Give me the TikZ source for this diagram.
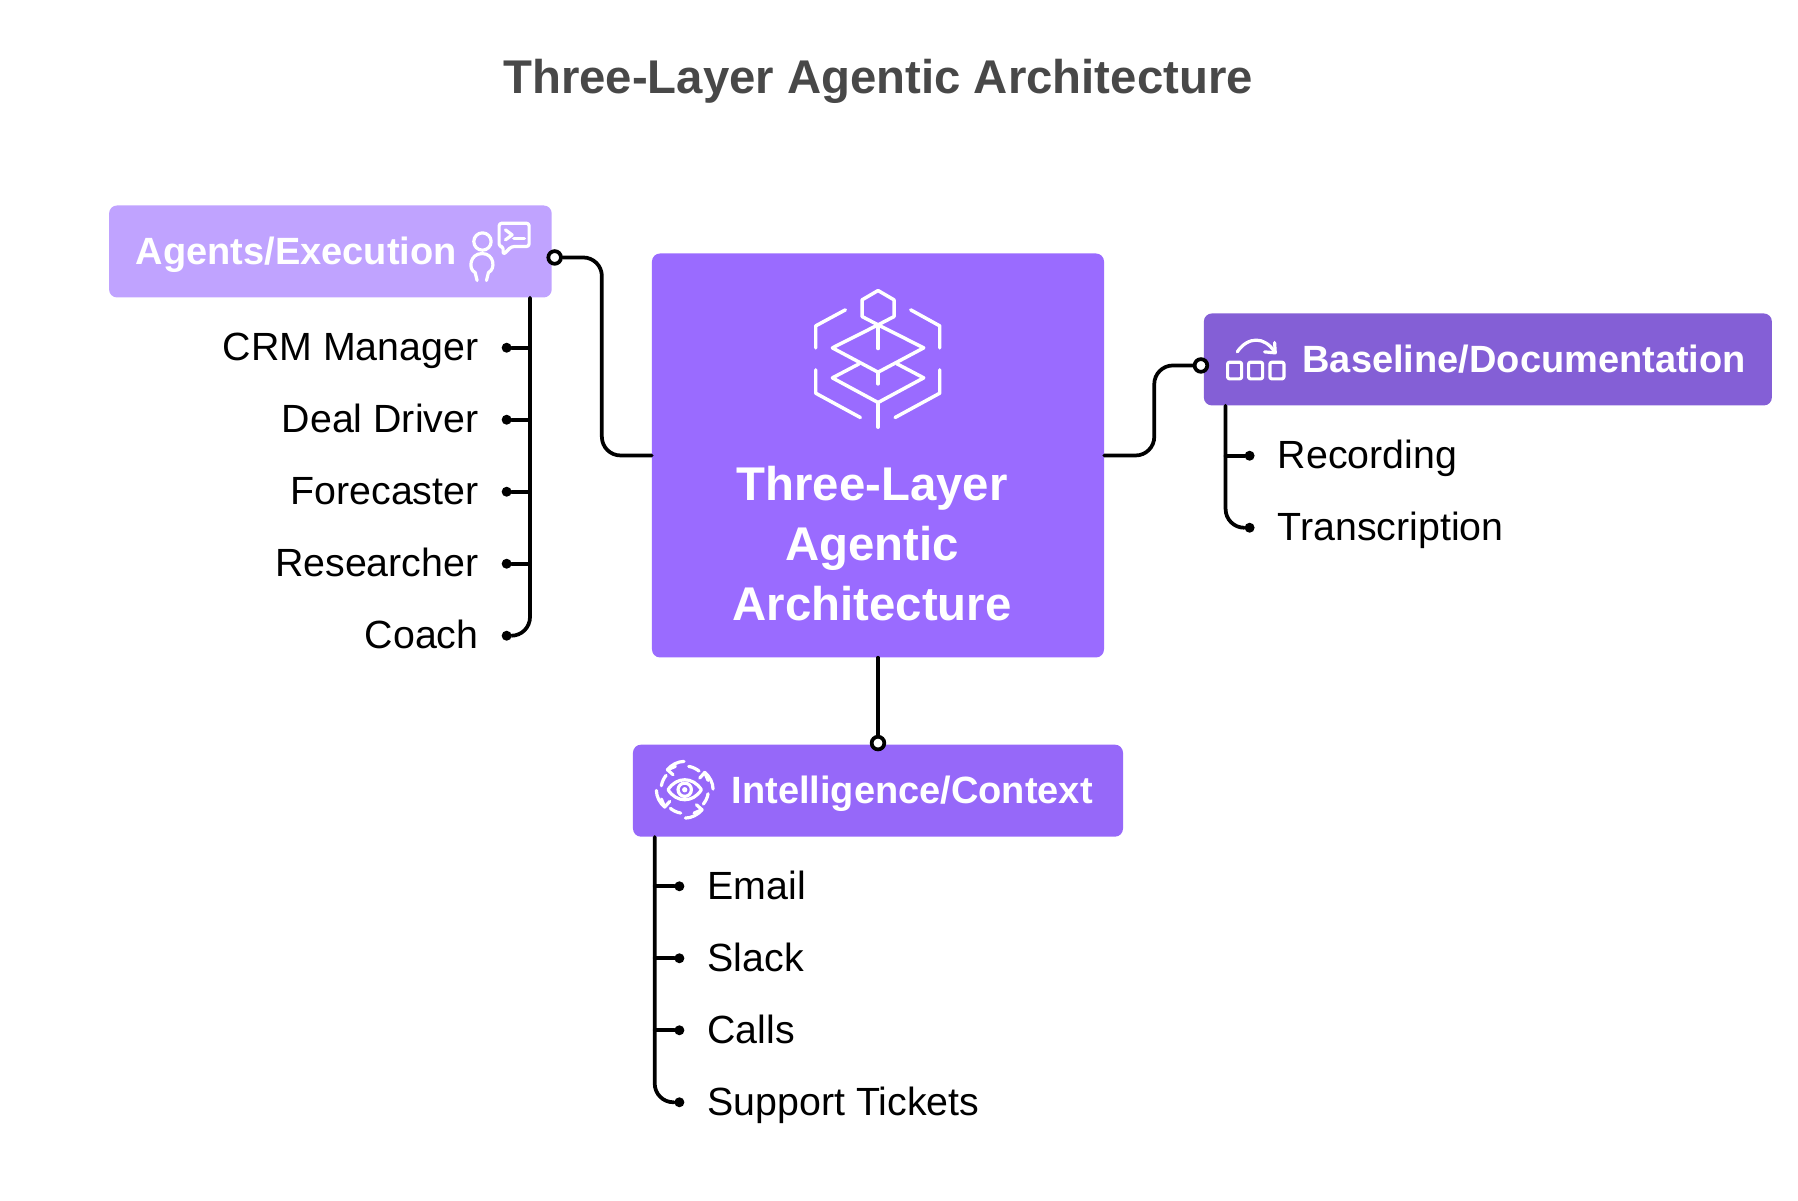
\documentclass[tikz,border=0pt]{standalone}
\usepackage{fontspec}
\setmainfont{Liberation Sans}
\usetikzlibrary{positioning}
\definecolor{titlegray}{HTML}{484848}
\definecolor{mainviolet}{HTML}{9A6BFF}
\definecolor{agentsviolet}{HTML}{C0A3FF}
\definecolor{baseviolet}{HTML}{845FD6}
\definecolor{intelviolet}{HTML}{9668F9}
\tikzset{
	layerbox/.style={rounded corners=6pt, inner sep=0pt, minimum height=69pt},
	boxlabel/.style={inner sep=0pt, text=white, text height=22pt, text depth=2.6pt, font=\fontsize{28.5}{34}\selectfont\bfseries},
	wire/.style={line width=2.8pt, line cap=round, rounded corners=14pt},
	openend/.style={circle, draw, fill=white, line width=2.8pt, inner sep=0pt, minimum size=9.5pt},
	leafdot/.style={on grid, circle, fill, inner sep=0pt, minimum size=7.5pt},
	leaftext/.style={inner sep=0pt, text height=24pt, text depth=4.7pt, font=\fontsize{29.5}{34}\selectfont},
	iconline/.style={draw=white, line width=2.4pt, line cap=round, line join=round},
}
\begin{document}
\begin{tikzpicture}[label distance=17pt]
	  \useasboundingbox (-658.5pt,341.6pt) rectangle (690pt,-558.4pt);
	  \node[layerbox, fill=mainviolet, minimum width=339pt, minimum height=303pt] (main) {};
	  \node[inner sep=0pt, text=white, align=center, xshift=-4.4pt, yshift=-66.2pt, font=\fontsize{35.5}{45}\selectfont\bfseries] (maintext) at (main) {Three-Layer\\Agentic\\Architecture};
	  \node[above=112pt of main, inner sep=0pt, text=titlegray, font=\fontsize{35.5}{42}\selectfont\bfseries] (title) {Three-Layer Agentic Architecture};

	  \node[layerbox, fill=agentsviolet, minimum width=332pt, left=74.8pt of main, yshift=153pt] (agents) {};
	  \node[boxlabel, right=20pt of agents.west] (agentslabel) {Agents/Execution};
	  \node[layerbox, fill=baseviolet, minimum width=426pt, right=74.5pt of main, yshift=72pt] (base) {};
	  \node[boxlabel, right=74pt of base.west] (baselabel) {Baseline/Documentation};
	  \node[layerbox, fill=intelviolet, minimum width=367.5pt, below=65pt of main] (intel) {};
	  \node[boxlabel, right=74pt of intel.west] (intellabel) {Intelligence/Context};

	  \node[leafdot, xshift=-34pt, yshift=-37.5pt, label={[leaftext, name=crmtext]180:CRM Manager}] (crm) at (agents.south east) {};
	  \node[leafdot, below=54pt of crm, label={[leaftext, name=dealtext]180:Deal Driver}] (deal) {};
	  \node[leafdot, below=54pt of deal, label={[leaftext, name=foretext]180:Forecaster}] (fore) {};
	  \node[leafdot, below=54pt of fore, label={[leaftext, name=restext]180:Researcher}] (res) {};
	  \node[leafdot, below=54pt of res, label={[leaftext, name=coachtext]180:Coach}] (coach) {};

	  \node[leafdot, xshift=34.5pt, yshift=-37.5pt, label={[leaftext, name=rectext]0:Recording}] (rec) at (base.south west) {};
	  \node[leafdot, below=54pt of rec, label={[leaftext, name=transtext]0:Transcription}] (trans) {};

	  \node[leafdot, xshift=35pt, yshift=-37pt, label={[leaftext, name=emailtext]0:Email}] (email) at (intel.south west) {};
	  \node[leafdot, below=54pt of email, label={[leaftext, name=slacktext]0:Slack}] (slack) {};
	  \node[leafdot, below=54pt of slack, label={[leaftext, name=callstext]0:Calls}] (calls) {};
	  \node[leafdot, below=54pt of calls, label={[leaftext, name=tickettext]0:Support Tickets}] (ticket) {};

	  \coordinate[xshift=-16.5pt] (agentsbus) at (agents.south east);
	  \coordinate[xshift=16.5pt] (basebus) at (base.south west);
	  \coordinate[xshift=16.5pt] (intelbus) at (intel.south west);
	  \coordinate[left=37.4pt of main.west] (agentsbend);
	  \coordinate[right=37.5pt of main.east] (basebend);

	  \draw[wire] (agentsbus) |- (coach);
	  \draw[wire] (basebus) |- (trans);
	  \draw[wire] (intelbus) |- (ticket);
	  \foreach \leaf in {crm, deal, fore, res} {
	    \draw[wire] (\leaf) -- (\leaf -| agentsbus);
	  }
	  \draw[wire] (rec) -- (rec -| basebus);
	  \foreach \leaf in {email, slack, calls} {
	    \draw[wire] (\leaf) -- (\leaf -| intelbus);
	  }

	  \node[openend, xshift=2pt, yshift=-4.5pt] (agentsend) at (agents.east) {};
	  \node[openend, xshift=-2pt, yshift=-4.5pt] (baseend) at (base.west) {};
	  \node[openend, yshift=1pt] (intelend) at (intel.north) {};
	  \draw[wire] (agentsend) -| (agentsbend) -- (main.west);
	  \draw[wire] (main.east) -- (basebend) |- (baseend);
	  \draw[wire] (main.south) -- (intelend);

	  \begin{scope}[shift={(main.north west)}, xshift=81pt, yshift=-12.5pt, x=.25pt, y=-.25pt, iconline, line width=2.6pt]
	    \draw (355,62) -- (403,90) -- (403,140) -- (355,165) -- (307,140) -- (307,90) -- cycle;
	    \draw (257,120) -- (168,168) -- (168,234);
	    \draw (453,120) -- (540,168) -- (540,234);
	    \draw (168,300) -- (168,370) -- (302,443);
	    \draw (540,300) -- (540,370) -- (406,443);
	    \draw (355,165) -- (492,234) -- (355,307) -- (218,234) -- cycle;
	    \draw (355,165) -- (355,236);
	    \draw (355,307) -- (355,342);
	    \draw (298,282) -- (218,324) -- (355,398) -- (492,324) -- (412,282);
	    \draw (355,398) -- (355,472);
	  \end{scope}

	  \begin{scope}[shift={(agents.north west)}, xshift=255.75pt, yshift=-3.5pt, x=.25pt, y=-.25pt, iconline]
	    \draw (98,95) circle[radius=6.5pt];
	    \draw (82,212) -- (76,188) .. controls (54,178) and (60,131) .. (97,131) .. controls (134,131) and (138,178) .. (116,188) -- (110,212);
	    \draw[rounded corners=2pt] (148,40) -- (238,40) -- (238,110) -- (185,110) -- (160,135) -- (160,110) -- (148,110) -- cycle;
	    \draw (167,60) -- (187,75) -- (167,90);
	    \draw (192,85) -- (224,85);
	  \end{scope}

	  \begin{scope}[shift={(base.north west)}, xshift=-18pt, yshift=9.75pt, x=.25pt, y=-.25pt, iconline]
	    \draw[rounded corners=1.5pt] (144,186) rectangle (186,236);
	    \draw[rounded corners=1.5pt] (207,186) rectangle (249,236);
	    \draw[rounded corners=1.5pt] (271,186) rectangle (313,236);
	    \draw (173,155) .. controls (205,108) and (255,108) .. (285,155);
	    \draw (285,127) -- (287,158) -- (255,155);
	  \end{scope}

	  \begin{scope}[shift={(intel.north west)}, xshift=39pt, yshift=-34pt, x=.25pt, y=.25pt, iconline]
	    \draw (-50,0) .. controls (-25,40) and (25,40) .. (50,0) .. controls (25,-40) and (-25,-40) .. (-50,0) -- cycle;
	    \draw (0,0) circle[radius=5pt];
	    \fill[white] (0,0) circle[radius=2pt];
	    \foreach \turn in {0,90,180,270} {
	      \begin{scope}[rotate=\turn]
	        \draw (60,52) .. controls (75,40) and (85,20) .. (85,2);
	        \draw (45,35) -- (60,52) -- (70,28);
	        \draw (70,-12) .. controls (68,-25) and (62,-35) .. (56,-43);
	      \end{scope}
	    }
	  \end{scope}
\end{tikzpicture}
\end{document}
